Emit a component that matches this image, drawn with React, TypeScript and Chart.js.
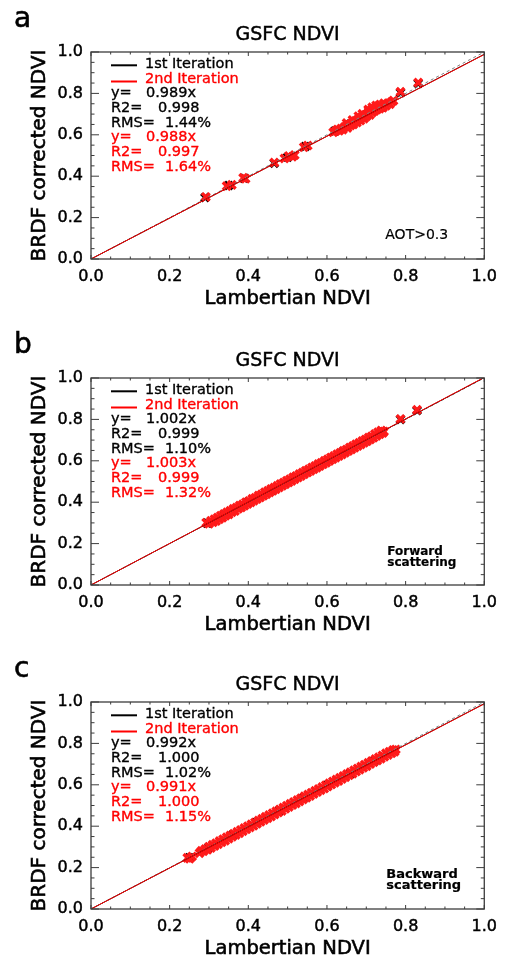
import React, { useEffect, useRef } from 'react';
import { Chart, registerables } from 'chart.js';
Chart.register(...registerables);

const FONT = '"DejaVu Sans", "Liberation Sans", sans-serif';
const RED_TEXT = '#ff0000';
const RED_MARK = '#ff1a1a';

// ---- axes ----
const tickValues = [0, 0.2, 0.4, 0.6, 0.8, 1.0];
const tickLabels = ['0.0', '0.2', '0.4', '0.6', '0.8', '1.0'];
const minorTickValues = [0, 0.05, 0.1, 0.15, 0.2, 0.25, 0.3, 0.35, 0.4, 0.45, 0.5, 0.55, 0.6, 0.65, 0.7, 0.75, 0.8, 0.85, 0.9, 0.95, 1.0];

// ---- texts ----
const panelLetters = ['a', 'b', 'c'];
const panelTitle = 'GSFC NDVI';
const xTitle = 'Lambertian NDVI';
const yTitle = 'BRDF corrected NDVI';
const legendLabels = ['1st Iteration', '2nd Iteration'];
const statLabels = ['y=', 'R2=', 'RMS='];
const statsBlackA = ['0.989x', '0.998', '1.44%'];
const statsRedA = ['0.988x', '0.997', '1.64%'];
const statsBlackB = ['1.002x', '0.999', '1.10%'];
const statsRedB = ['1.003x', '0.999', '1.32%'];
const statsBlackC = ['0.992x', '1.000', '1.02%'];
const statsRedC = ['0.991x', '1.000', '1.15%'];
const noteA = ['AOT>0.3'];
const noteB = ['Forward', 'scattering'];
const noteC = ['Backward', 'scattering'];

// ---- regression slopes ----
const slopeBlackA = 0.989, slopeRedA = 0.988;
const slopeBlackB = 1.002, slopeRedB = 1.003;
const slopeBlackC = 0.992, slopeRedC = 0.991;
const oneToOne = [[0, 0], [1, 1]];

// ---- panel a points [Lambertian, BRDF corrected] ----
const redA = [
  [0.292, 0.300], [0.345, 0.352], [0.358, 0.358], [0.387, 0.392], [0.393, 0.388], [0.466, 0.466],
  [0.492, 0.486], [0.503, 0.497], [0.512, 0.494], [0.518, 0.502], [0.541, 0.540], [0.551, 0.548],
  [0.616, 0.612], [0.622, 0.618], [0.627, 0.626], [0.631, 0.620], [0.636, 0.630], [0.640, 0.625],
  [0.644, 0.636], [0.648, 0.641], [0.650, 0.657], [0.652, 0.633], [0.656, 0.648], [0.660, 0.645],
  [0.663, 0.655], [0.665, 0.672], [0.667, 0.650], [0.670, 0.662], [0.673, 0.668], [0.676, 0.659],
  [0.679, 0.672], [0.680, 0.690], [0.682, 0.680], [0.685, 0.669], [0.688, 0.684], [0.690, 0.701],
  [0.691, 0.690], [0.694, 0.678], [0.697, 0.695], [0.700, 0.688], [0.703, 0.701], [0.705, 0.722],
  [0.706, 0.712], [0.709, 0.696], [0.712, 0.718], [0.715, 0.733], [0.715, 0.708], [0.718, 0.726],
  [0.721, 0.715], [0.724, 0.733], [0.725, 0.742], [0.727, 0.722], [0.730, 0.738], [0.734, 0.726],
  [0.735, 0.746], [0.738, 0.740], [0.742, 0.731], [0.745, 0.752], [0.746, 0.744], [0.750, 0.740],
  [0.755, 0.752], [0.760, 0.748], [0.765, 0.760], [0.769, 0.765], [0.787, 0.808], [0.832, 0.852],
];
const blackA = [
  [0.290, 0.297], [0.350, 0.355], [0.390, 0.390], [0.466, 0.463], [0.500, 0.492], [0.545, 0.543],
  [0.620, 0.618], [0.660, 0.652], [0.700, 0.695], [0.740, 0.735], [0.787, 0.804], [0.832, 0.848],
];

// ---- panel b points ----
const redB = [
  [0.293, 0.301], [0.300, 0.296], [0.305, 0.310], [0.310, 0.303], [0.314, 0.318], [0.318, 0.309],
  [0.322, 0.326], [0.326, 0.318], [0.330, 0.335], [0.334, 0.325], [0.338, 0.343], [0.342, 0.335],
  [0.346, 0.351], [0.350, 0.341], [0.354, 0.358], [0.358, 0.352], [0.362, 0.368], [0.366, 0.357],
  [0.370, 0.374], [0.374, 0.368], [0.378, 0.384], [0.382, 0.375], [0.386, 0.390], [0.390, 0.383],
  [0.394, 0.400], [0.398, 0.391], [0.402, 0.406], [0.406, 0.399], [0.410, 0.416], [0.414, 0.407],
  [0.418, 0.422], [0.422, 0.415], [0.426, 0.432], [0.430, 0.423], [0.434, 0.438], [0.438, 0.431],
  [0.442, 0.448], [0.446, 0.439], [0.450, 0.455], [0.454, 0.447], [0.458, 0.464], [0.462, 0.455],
  [0.466, 0.471], [0.470, 0.463], [0.474, 0.479], [0.478, 0.471], [0.482, 0.488], [0.486, 0.479],
  [0.490, 0.495], [0.494, 0.487], [0.498, 0.504], [0.502, 0.495], [0.506, 0.511], [0.510, 0.503],
  [0.514, 0.520], [0.518, 0.511], [0.522, 0.527], [0.526, 0.519], [0.530, 0.536], [0.534, 0.527],
  [0.538, 0.543], [0.542, 0.535], [0.546, 0.552], [0.550, 0.543], [0.554, 0.559], [0.558, 0.551],
  [0.562, 0.568], [0.566, 0.559], [0.570, 0.575], [0.574, 0.567], [0.578, 0.584], [0.582, 0.575],
  [0.586, 0.591], [0.590, 0.583], [0.594, 0.600], [0.598, 0.591], [0.602, 0.607], [0.606, 0.599],
  [0.610, 0.616], [0.614, 0.607], [0.618, 0.623], [0.622, 0.615], [0.626, 0.632], [0.630, 0.623],
  [0.634, 0.639], [0.638, 0.631], [0.642, 0.648], [0.646, 0.639], [0.650, 0.655], [0.654, 0.647],
  [0.658, 0.664], [0.662, 0.655], [0.666, 0.671], [0.670, 0.663], [0.674, 0.680], [0.678, 0.671],
  [0.682, 0.687], [0.686, 0.679], [0.690, 0.696], [0.694, 0.687], [0.698, 0.703], [0.702, 0.695],
  [0.706, 0.712], [0.710, 0.703], [0.714, 0.719], [0.718, 0.711], [0.722, 0.729], [0.726, 0.720],
  [0.730, 0.738], [0.734, 0.728], [0.738, 0.746], [0.742, 0.735], [0.745, 0.742],
  [0.787, 0.802], [0.829, 0.846],
];
const blackB = [
  [0.296, 0.299], [0.340, 0.338], [0.400, 0.401], [0.460, 0.458], [0.520, 0.521], [0.580, 0.578],
  [0.640, 0.642], [0.700, 0.698], [0.740, 0.741], [0.787, 0.800], [0.829, 0.843],
];

// ---- panel c points ----
const redC = [
  [0.245, 0.247], [0.251, 0.243], [0.257, 0.254],
  [0.276, 0.270], [0.281, 0.281], [0.286, 0.279], [0.291, 0.290], [0.296, 0.286], [0.300, 0.301],
  [0.305, 0.295], [0.309, 0.310], [0.314, 0.304], [0.318, 0.318], [0.323, 0.313], [0.327, 0.328],
  [0.332, 0.322], [0.336, 0.337], [0.341, 0.330], [0.345, 0.346], [0.350, 0.340], [0.354, 0.355],
  [0.359, 0.349], [0.363, 0.364], [0.368, 0.358], [0.372, 0.373], [0.377, 0.366], [0.381, 0.382],
  [0.386, 0.376], [0.390, 0.391], [0.395, 0.385], [0.399, 0.400], [0.404, 0.394], [0.408, 0.409],
  [0.413, 0.402], [0.417, 0.418], [0.422, 0.412], [0.426, 0.427], [0.431, 0.421], [0.435, 0.436],
  [0.440, 0.430], [0.444, 0.445], [0.449, 0.439], [0.453, 0.454], [0.458, 0.447], [0.462, 0.463],
  [0.467, 0.457], [0.471, 0.472], [0.476, 0.466], [0.480, 0.481], [0.485, 0.474], [0.489, 0.490],
  [0.494, 0.484], [0.498, 0.499], [0.503, 0.493], [0.507, 0.508], [0.512, 0.502], [0.516, 0.517],
  [0.521, 0.510], [0.525, 0.526], [0.530, 0.520], [0.534, 0.535], [0.539, 0.529], [0.543, 0.544],
  [0.548, 0.538], [0.552, 0.553], [0.557, 0.546], [0.561, 0.562], [0.566, 0.556], [0.570, 0.571],
  [0.575, 0.565], [0.579, 0.580], [0.584, 0.574], [0.588, 0.589], [0.593, 0.582], [0.597, 0.598],
  [0.602, 0.592], [0.606, 0.607], [0.611, 0.601], [0.615, 0.616], [0.620, 0.610], [0.624, 0.625],
  [0.629, 0.618], [0.633, 0.634], [0.638, 0.628], [0.642, 0.643], [0.647, 0.637], [0.651, 0.652],
  [0.656, 0.646], [0.660, 0.661], [0.665, 0.654], [0.669, 0.670], [0.674, 0.664], [0.678, 0.679],
  [0.683, 0.673], [0.687, 0.688], [0.692, 0.682], [0.696, 0.697], [0.701, 0.690], [0.705, 0.706],
  [0.710, 0.700], [0.714, 0.715], [0.719, 0.709], [0.723, 0.724], [0.728, 0.718], [0.732, 0.733],
  [0.737, 0.726], [0.741, 0.742], [0.746, 0.736], [0.750, 0.752], [0.755, 0.744], [0.759, 0.760],
  [0.764, 0.752], [0.768, 0.768], [0.772, 0.760], [0.775, 0.771],
];
const blackC = [
  [0.250, 0.248], [0.300, 0.298], [0.360, 0.357], [0.420, 0.417], [0.480, 0.477], [0.540, 0.536],
  [0.600, 0.596], [0.660, 0.655], [0.720, 0.714], [0.770, 0.764],
];

const toXY = (arr: number[][]) => arr.map(([x, y]) => ({ x, y }));
const fitLine = (slope: number) => oneToOne.map(([x]) => ({ x, y: x * slope }));

type PanelProps = {
  idx: number;
  top: number;
  height: number;
  red: number[][];
  black: number[][];
  slopeBlack: number;
  slopeRed: number;
  statsBlack: string[];
  statsRed: string[];
  note: string[];
  noteFont: string;
  noteX: number;
  noteBase: number;
  noteGap: number;
};

function Panel(p: PanelProps) {
  const ref = useRef<HTMLCanvasElement | null>(null);
  useEffect(() => {
    if (!ref.current) return;
    const overlay = {
      id: 'overlay' + p.idx,
      afterDraw(chart: any) {
        const { ctx, chartArea: a, scales } = chart;
        const xs = scales.x, ys = scales.y;
        const line = (x1: number, y1: number, x2: number, y2: number) => {
          ctx.beginPath(); ctx.moveTo(x1, y1); ctx.lineTo(x2, y2); ctx.stroke();
        };
        const text = (t: string, x: number, y: number, color: string, sw = 0.35) => {
          ctx.fillStyle = color;
          ctx.strokeStyle = color;
          ctx.lineWidth = sw;
          if (sw > 0) ctx.strokeText(t, x, y);
          ctx.fillText(t, x, y);
        };
        ctx.save();
        // frame
        ctx.strokeStyle = '#3c3c3c';
        ctx.lineWidth = 1.3;
        ctx.strokeRect(a.left, a.top, a.right - a.left, a.bottom - a.top);
        // inward ticks on all four sides
        ctx.lineWidth = 1;
        minorTickValues.forEach((v, i) => {
          const major = i % 4 === 0;
          const px = xs.getPixelForValue(v);
          const lx = major ? 4 : 2.5;
          line(px, a.bottom, px, a.bottom - lx);
          line(px, a.top, px, a.top + lx);
          const py = ys.getPixelForValue(v);
          const ly = major ? 8 : 3.5;
          line(a.left, py, a.left + ly, py);
          line(a.right, py, a.right - ly, py);
        });
        const cx = (a.left + a.right) / 2;
        const cy = (a.top + a.bottom) / 2;
        // panel letter
        ctx.textAlign = 'left';
        ctx.textBaseline = 'alphabetic';
        ctx.font = `28px ${FONT}`;
        text(panelLetters[p.idx], 14, a.top - 25, '#000', 0.6);
        // title
        ctx.textAlign = 'center';
        ctx.textBaseline = 'middle';
        ctx.font = `19px ${FONT}`;
        text(panelTitle, cx, a.top - 17, '#000', 0.45);
        // x title
        ctx.font = `19.5px ${FONT}`;
        text(xTitle, cx, a.bottom + 40, '#000', 0.6);
        // y title
        ctx.save();
        ctx.translate(40, cy);
        ctx.rotate(-Math.PI / 2);
        ctx.font = `20px ${FONT}`;
        text(yTitle, 0, 0, '#000', 0.6);
        ctx.restore();
        // legend
        ctx.lineWidth = 2;
        ctx.strokeStyle = '#000';
        line(a.left + 20, a.top + 13.3, a.left + 46, a.top + 13.3);
        ctx.strokeStyle = RED_TEXT;
        line(a.left + 20, a.top + 29.5, a.left + 46, a.top + 29.5);
        ctx.textAlign = 'left';
        ctx.textBaseline = 'alphabetic';
        ctx.font = `14.5px ${FONT}`;
        text(legendLabels[0], a.left + 54, a.top + 16.3, '#000');
        text(legendLabels[1], a.left + 54, a.top + 30.8, RED_TEXT);
        const valX = [55, 67, 74];
        const rows = [
          ...p.statsBlack.map((v, i) => ({ label: statLabels[i], v, i, c: '#000' })),
          ...p.statsRed.map((v, i) => ({ label: statLabels[i], v, i, c: RED_TEXT })),
        ];
        rows.forEach((r, k) => {
          const by = a.top + 45.4 + 14.65 * k;
          text(r.label, a.left + 20, by, r.c);
          text(r.v, a.left + valX[r.i], by, r.c);
        });
        // note
        ctx.font = p.noteFont;
        p.note.forEach((t, k) => {
          text(t, a.right - p.noteX, a.bottom - p.noteBase + k * p.noteGap, '#000', 0.2);
        });
        ctx.restore();
      },
    };

    const chart = new Chart(ref.current, {
      type: 'scatter',
      data: {
        datasets: [
          {
            data: fitLine(p.slopeRed), showLine: true, borderColor: RED_TEXT, borderWidth: 1,
            pointRadius: 0, order: 0,
          },
          {
            data: fitLine(p.slopeBlack), showLine: true, borderColor: '#000', borderWidth: 1,
            pointRadius: 0, order: 1,
          },
          {
            data: toXY(oneToOne), showLine: true, borderColor: '#808080', borderWidth: 1,
            borderDash: [3, 3], pointRadius: 0, order: 2,
          },
          {
            data: toXY(p.red), pointStyle: 'crossRot', pointRadius: 5.4, pointBorderWidth: 3.4,
            pointBorderColor: RED_MARK, pointBackgroundColor: RED_MARK, order: 3,
          },
          {
            data: toXY(p.black), pointStyle: 'crossRot', pointRadius: 5.4, pointBorderWidth: 3.4,
            pointBorderColor: '#000', pointBackgroundColor: '#000', order: 4,
          },
        ] as any,
      },
      options: {
        animation: false,
        responsive: false,
        events: [],
        layout: { padding: { left: 0, right: 20, top: 52, bottom: 0 } },
        plugins: { legend: { display: false }, tooltip: { enabled: false }, title: { display: false } },
        scales: {
          x: {
            type: 'linear', min: 0, max: 1,
            afterBuildTicks: (s: any) => { s.ticks = tickValues.map((v) => ({ value: v })); },
            afterFit: (s: any) => { s.height = p.height - 259; },
            ticks: {
              callback: (_v: any, i: number) => tickLabels[i],
              font: { family: FONT, size: 16 }, color: '#000', padding: 8,
              textStrokeColor: '#000', textStrokeWidth: 0.45,
              maxRotation: 0, autoSkip: false,
            },
            grid: { display: false, drawTicks: false },
            border: { display: false },
          },
          y: {
            type: 'linear', min: 0, max: 1,
            afterBuildTicks: (s: any) => { s.ticks = tickValues.map((v) => ({ value: v })); },
            afterFit: (s: any) => { s.width = 91; },
            ticks: {
              callback: (_v: any, i: number) => tickLabels[i],
              font: { family: FONT, size: 16 }, color: '#000', padding: 8,
              textStrokeColor: '#000', textStrokeWidth: 0.45,
              autoSkip: false,
            },
            grid: { display: false, drawTicks: false },
            border: { display: false },
          },
        },
      } as any,
      plugins: [overlay],
    });
    return () => chart.destroy();
  }, []);
  return (
    <canvas
      ref={ref}
      width={505}
      height={p.height}
      style={{ position: 'absolute', left: 0, top: p.top, width: 505, height: p.height }}
    />
  );
}

export default function App() {
  return (
    <div style={{ position: 'absolute', left: 0, top: 0, width: 505, height: 964, background: '#fff', overflow: 'hidden' }}>
      <Panel idx={0} top={0} height={326} red={redA} black={blackA} slopeBlack={slopeBlackA} slopeRed={slopeRedA}
        statsBlack={statsBlackA} statsRed={statsRedA} note={noteA} noteFont={`14px ${FONT}`} noteX={99} noteBase={20} noteGap={12} />
      <Panel idx={1} top={326} height={324} red={redB} black={blackB} slopeBlack={slopeBlackB} slopeRed={slopeRedB}
        statsBlack={statsBlackB} statsRed={statsRedB} note={noteB} noteFont={`bold 12px ${FONT}`} noteX={97} noteBase={30} noteGap={11} />
      <Panel idx={2} top={650} height={314} red={redC} black={blackC} slopeBlack={slopeBlackC} slopeRed={slopeRedC}
        statsBlack={statsBlackC} statsRed={statsRedC} note={noteC} noteFont={`bold 13px ${FONT}`} noteX={98} noteBase={31} noteGap={11} />
    </div>
  );
}
